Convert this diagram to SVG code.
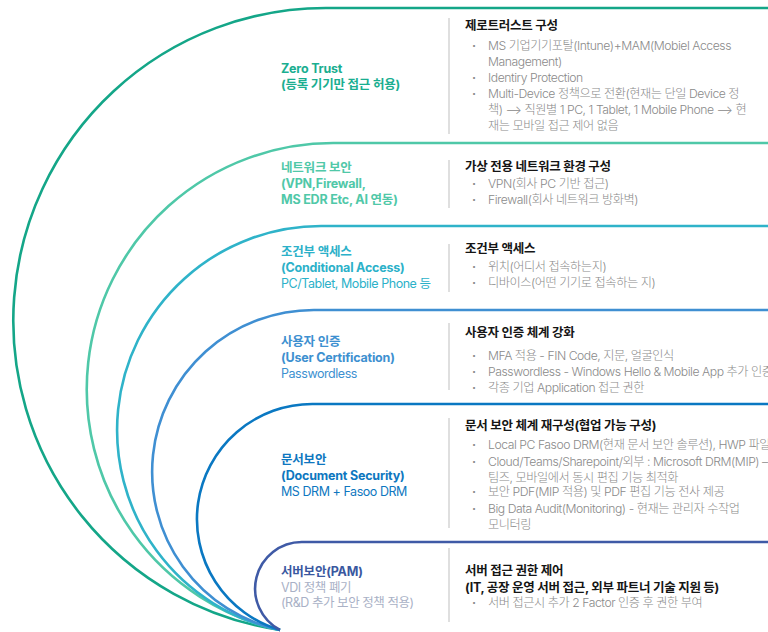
<svg xmlns="http://www.w3.org/2000/svg" width="768" height="632" viewBox="0 0 768 632">
<style>
text{font-family:Inter,"Noto Sans CJK KR",sans-serif;}
.lbl{font-size:12.5px;font-weight:700;letter-spacing:-0.2px;}
.sub{font-size:12.5px;font-weight:400;letter-spacing:-0.45px;}
.hd{font-size:12.5px;font-weight:700;fill:#151515;letter-spacing:-0.25px;}
.bl{font-size:12.2px;font-weight:300;fill:#8a8a8a;letter-spacing:-0.45px;}
.dot{font-size:12.2px;font-weight:700;fill:#8a8a8a;}
.arc{fill:none;stroke-width:2.6;}
.div{stroke:#d4d4d4;stroke-width:1.5;}
</style>
<rect width="768" height="632" fill="#ffffff"/>
<g id="arcs">
<path class="arc" stroke="#14a688" d="M768,8 H326.7 A312.7,312.7 0 0 0 280,630"/>
<path class="arc" stroke="#4fc8a8" d="M768,143 H333.4 A246.4,246.4 0 0 0 280,630"/>
<path class="arc" stroke="#2fb3c9" d="M768,226 H321.1 A204.1,204.1 0 0 0 280,630"/>
<path class="arc" stroke="#3f8fd2" d="M768,310 H313.8 A161.8,161.8 0 0 0 280,630"/>
<path class="arc" stroke="#0a78c2" d="M768,404 H312.3 A115.3,115.3 0 0 0 280,630"/>
<path class="arc" stroke="#3f5aa6" d="M768,542 H301.7 A46.7,46.7 0 0 0 280,630"/>
</g>
<g id="zero-trust">
<text class="lbl" x="281" y="73" fill="#1aae90">Zero Trust</text>
<text class="lbl" x="281" y="89" fill="#1aae90">(등록 기기만 접근 허용)</text>
<line class="div" x1="449" y1="18" x2="449" y2="134"/>
<text class="hd" x="465" y="30">제로트러스트 구성</text>
<text class="dot" x="472" y="50">·</text><text class="bl" x="488" y="50">MS 기업기기포탈(Intune)+MAM(Mobiel Access</text>
<text class="bl" x="488" y="66">Management)</text>
<text class="dot" x="472" y="82">·</text><text class="bl" x="488" y="82">Identiry Protection</text>
<text class="dot" x="472" y="98">·</text><text class="bl" x="488" y="98">Multi-Device 정책으로 전환(현재는 단일 Device 정</text>
<text class="bl" x="488" y="114">책) ⟶ 직원별 1 PC, 1 Tablet, 1 Mobile Phone ⟶  현</text>
<text class="bl" x="488" y="130">재는 모바일 접근 제어 없음</text>
</g>
<g id="network">
<text class="lbl" x="281" y="172" fill="#50c8a8">네트워크 보안</text>
<text class="lbl" x="281" y="188" fill="#50c8a8">(VPN,Firewall,</text>
<text class="lbl" x="281" y="204" fill="#50c8a8">MS EDR Etc, AI 연동)</text>
<line class="div" x1="449" y1="160" x2="449" y2="208"/>
<text class="hd" x="465" y="171">가상 전용 네트워크 환경 구성</text>
<text class="dot" x="472" y="188">·</text><text class="bl" x="488" y="188">VPN(회사 PC 기반 접근)</text>
<text class="dot" x="472" y="204">·</text><text class="bl" x="488" y="204">Firewall(회사 네트워크 방화벽)</text>
</g>
<g id="conditional">
<text class="lbl" x="281" y="256" fill="#2cb1c9">조건부 액세스</text>
<text class="lbl" x="281" y="272" fill="#2cb1c9">(Conditional Access)</text>
<text class="sub" x="281" y="288" fill="#2cb1c9">PC/Tablet, Mobile Phone 등</text>
<line class="div" x1="449" y1="244" x2="449" y2="292"/>
<text class="hd" x="465" y="253">조건부 액세스</text>
<text class="dot" x="472" y="271">·</text><text class="bl" x="488" y="271">위치(어디서 접속하는지)</text>
<text class="dot" x="472" y="287">·</text><text class="bl" x="488" y="287">디바이스(어떤 기기로 접속하는 지)</text>
</g>
<g id="user-cert">
<text class="lbl" x="281" y="346" fill="#3d90d0">사용자 인증</text>
<text class="lbl" x="281" y="362" fill="#3d90d0">(User Certification)</text>
<text class="sub" x="281" y="378" fill="#3d90d0">Passwordless</text>
<line class="div" x1="449" y1="323" x2="449" y2="390"/>
<text class="hd" x="465" y="337">사용자 인증 체계 강화</text>
<text class="dot" x="472" y="360">·</text><text class="bl" x="488" y="360">MFA 적용 - FIN Code, 지문, 얼굴인식</text>
<text class="dot" x="472" y="376">·</text><text class="bl" x="488" y="376">Passwordless - Windows Hello &amp; Mobile App 추가 인증</text>
<text class="dot" x="472" y="392">·</text><text class="bl" x="488" y="392">각종 기업 Application 접근 권한</text>
</g>
<g id="document">
<text class="lbl" x="281" y="464" fill="#0e77c0">문서보안</text>
<text class="lbl" x="281" y="480" fill="#0e77c0">(Document Security)</text>
<text class="sub" x="281" y="496" fill="#0e77c0">MS DRM + Fasoo DRM</text>
<line class="div" x1="449" y1="418" x2="449" y2="528"/>
<text class="hd" x="465" y="430">문서 보안 체계 재구성(협업 가능 구성)</text>
<text class="dot" x="472" y="449">·</text><text class="bl" x="488" y="449">Local PC Fasoo DRM(현재 문서 보안 솔루션), HWP 파일</text>
<text class="dot" x="472" y="466">·</text><text class="bl" x="488" y="466">Cloud/Teams/Sharepoint/외부 : Microsoft DRM(MIP) –</text>
<text class="bl" x="488" y="482">팀즈, 모바일에서 동시 편집 기능 최적화</text>
<text class="dot" x="472" y="496">·</text><text class="bl" x="488" y="496">보안 PDF(MIP 적용) 및 PDF 편집 기능 전사 제공</text>
<text class="dot" x="472" y="513">·</text><text class="bl" x="488" y="513">Big Data Audit(Monitoring) - 현재는 관리자 수작업</text>
<text class="bl" x="488" y="529">모니터링</text>
</g>
<g id="pam">
<text class="lbl" x="281" y="576" fill="#3a58a0">서버보안(PAM)</text>
<text class="sub" x="281" y="592" fill="#a9b1c6">VDI 정책 폐기</text>
<text class="sub" x="281" y="607" fill="#a9b1c6">(R&amp;D 추가 보안 정책 적용)</text>
<line class="div" x1="449" y1="548" x2="449" y2="622"/>
<text class="hd" x="465" y="575">서버 접근 권한 제어</text>
<text class="hd" x="465" y="592">(IT, 공장 운영 서버 접근, 외부 파트너 기술 지원 등)</text>
<text class="dot" x="472" y="607">·</text><text class="bl" x="488" y="607">서버 접근시 추가 2 Factor 인증 후 권한 부여</text>
</g>
</svg>
